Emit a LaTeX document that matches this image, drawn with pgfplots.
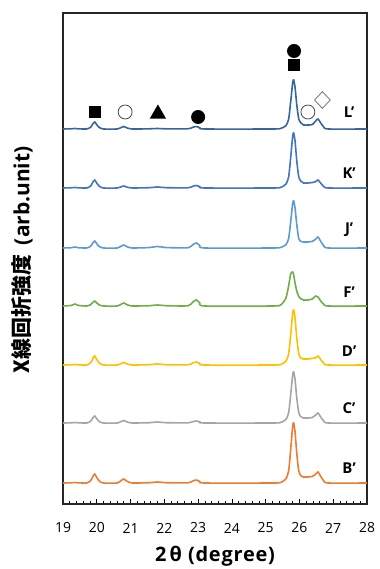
\documentclass[border=0pt]{standalone}
\usepackage{pgfplots}
\pgfplotsset{compat=1.18}
\usepackage{pgfplotstable}
\usepackage{fontspec}
\setmainfont{Open Sans}
\newfontfamily\jp{Noto Sans CJK JP}
\usetikzlibrary{shapes.geometric}
\definecolor{cL}{HTML}{36669C}
\definecolor{cK}{HTML}{4472C4}
\definecolor{cJ}{HTML}{5B9BD5}
\definecolor{cF}{HTML}{70AD47}
\definecolor{cD}{HTML}{FFC000}
\definecolor{cC}{HTML}{A5A5A5}
\definecolor{cB}{HTML}{ED7D31}
\pgfplotstableread{
x B C D F J K L
19.00 0 0 0 0 0 0 0
19.25 0.2 0.2 0.2 0.6 0.3 0.2 0.2
19.35 0.5 0.5 0.5 2 1 0.5 0.5
19.45 0.2 0.2 0.2 0.6 0.3 0.2 0.2
19.70 0 0 0 0 0 0 0
19.82 2.3 1.8 2.3 1.3 1.8 2 1.8
19.88 6.3 4.9 6.3 3.5 4.9 5.6 4.9
19.94 9 7 9 5 7 8 7
20.00 5.4 4.2 5.4 3 4.2 4.8 4.2
20.08 1.8 1.4 1.8 1 1.4 1.6 1.4
20.20 0 0 0 0 0 0 0
20.60 0 0 0 0 0 0 0
20.72 2.4 1.5 1.5 1.8 1.8 1.2 1.5
20.80 4 2.5 2.5 3 3 2 2.5
20.90 1.6 1 1 1.2 1.2 0.8 1
21.05 0 0 0 0 0 0 0
21.55 0.3 0.3 0.3 0.3 0.45 0.3 0.15
21.80 1 1 1 1 1.5 1 0.5
22.05 0.3 0.3 0.3 0.3 0.45 0.3 0.15
22.70 0.2 0.2 0.2 0.2 0.2 0.2 0.2
22.85 2.1 1.4 2.1 4.2 3.5 1.8 1.8
22.95 3 2 3 6 5 2.5 2.5
23.05 1.5 1 1.5 3 2.5 1.3 1.3
23.20 0 0 0 0 0 0 0
25.20 0 0 0 0 0 0 0
25.45 0.6 0.6 0.6 1.2 0.6 0.6 0.6
25.60 4.2 3.6 3.9 8 3.3 3.9 3.4
25.68 12 10.2 11 20 9.4 11 9.8
25.74 33 28 30 32 26 30 27
25.80 57 48.5 52 34 44.7 52 46.5
25.83 60 51 55 31 47 55 49
25.87 51 43.4 47 23 40 47 41.7
25.92 30 25.5 27.5 15 23.5 27.5 24.5
25.98 12 10.2 11 9.5 9.4 11 9.8
26.05 7 6 6.6 7 6.5 6.6 5.9
26.12 6 5 6 6 6 5 4
26.25 6 5 6 6 6 5 4
26.38 6.6 5.5 6.6 7 6.6 5.5 4.4
26.48 8.8 8 7.2 10 8.8 6.4 8
26.55 11 10 9 9 11 8 10
26.63 6.6 6 5.4 5 6.6 4.8 6
26.72 2.2 2 1.8 1.8 2.2 1.6 2
26.85 0 0 0 0 0 0 0
28.00 0 0 0 0 0 0 0
}\data
\begin{document}
\begin{tikzpicture}[x=1bp,y=1bp]
\useasboundingbox (-63,-65) rectangle (316,504);
\begin{axis}[at={(0,0)}, anchor=south west, scale only axis,
  width=304bp, height=491bp,
  xmin=19, xmax=28, ymin=0, ymax=491,
  ytick=\empty, xtick={19,20,...,28}, minor x tick num=4,
  xtick pos=left, tick align=inside,
  major tick length=4.5bp, minor tick length=3bp,
  every tick/.style={black, line width=0.7pt},
  axis line style={black!85, line width=1.1pt},
  /pgf/number format/assume math mode=true,
  xticklabel style={font=\fontsize{14}{14}\selectfont, anchor=center, yshift=-24bp},
  xlabel={2\,θ (degree)},
  every axis x label/.style={at={(axis description cs:0.5,-0.107)}, anchor=center,
     font=\fontsize{20}{20}\selectfont\bfseries\addfontfeatures{LetterSpace=4}},
  ylabel={{\jp X線回折強度}\hspace{10bp}(arb.unit)},
  every axis y label/.style={at={(axis description cs:-0.135,0.497)}, anchor=center, rotate=90,
     font=\fontsize{21}{21}\selectfont\bfseries},
  clip=false]
\addplot[cB, line width=1.6bp, smooth, tension=0.4] table[x=x, y expr=\thisrow{B}+21] {\data};
\addplot[cC, line width=1.6bp, smooth, tension=0.4] table[x=x, y expr=\thisrow{C}+81] {\data};
\addplot[cD, line width=1.6bp, smooth, tension=0.4] table[x=x, y expr=\thisrow{D}+139] {\data};
\addplot[cF, line width=1.6bp, smooth, tension=0.4] table[x=x, y expr=\thisrow{F}+198] {\data};
\addplot[cJ, line width=1.6bp, smooth, tension=0.4] table[x=x, y expr=\thisrow{J}+256] {\data};
\addplot[cK, line width=1.6bp, smooth, tension=0.4] table[x=x, y expr=\thisrow{K}+316] {\data};
\addplot[cL, line width=1.6bp, smooth, tension=0.4] table[x=x, y expr=\thisrow{L}+375] {\data};
\begin{scope}[every node/.style={font=\fontsize{15}{15}\selectfont\bfseries}]
\node at (axis cs:27.47,392) {L’};
\node at (axis cs:27.47,331) {K’};
\node at (axis cs:27.47,274) {J’};
\node at (axis cs:27.47,212) {F’};
\node at (axis cs:27.47,153) {D’};
\node at (axis cs:27.47,96) {C’};
\node at (axis cs:27.47,36) {B’};
\end{scope}
\node[fill=black, rectangle, minimum size=12bp, inner sep=0] at (axis cs:19.95,392) {};
\node[draw=black!80, line width=0.7pt, circle, minimum size=14bp, inner sep=0] at (axis cs:20.84,392) {};
\node[fill=black, regular polygon, regular polygon sides=3, minimum size=19bp, inner sep=0] at (axis cs:21.81,390) {};
\node[fill=black, circle, minimum size=14bp, inner sep=0] at (axis cs:23.0,387) {};
\node[fill=black, rectangle, minimum size=12bp, inner sep=0] at (axis cs:25.84,439) {};
\node[fill=black, circle, minimum size=14bp, inner sep=0] at (axis cs:25.84,453) {};
\node[draw=black!80, line width=0.7pt, circle, minimum size=14bp, inner sep=0] at (axis cs:26.25,392) {};
\node[draw=black!60, line width=0.7pt, diamond, minimum width=16bp, minimum height=17bp, inner sep=0, fill=white] at (axis cs:26.68,404) {};
\end{axis}
\end{tikzpicture}
\end{document}
